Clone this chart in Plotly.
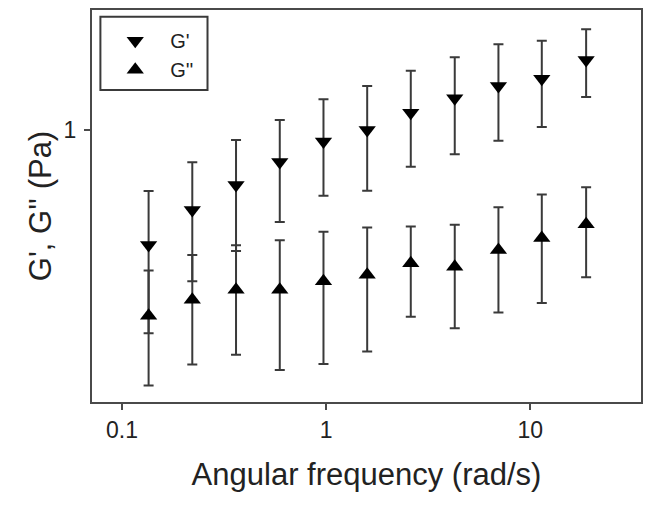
import plotly.graph_objects as go

# Angular frequency (rad/s)
freq = [0.135, 0.221, 0.362, 0.593, 0.971, 1.59, 2.60, 4.27, 6.99, 11.4, 18.8]

# G' (storage modulus) mean and error-bar ends
g1 = [0.509, 0.625, 0.724, 0.829, 0.934, 1.000, 1.107, 1.204, 1.295, 1.351, 1.508]
g1_hi = [0.699, 0.827, 0.943, 1.060, 1.197, 1.295, 1.416, 1.532, 1.654, 1.689, 1.806]
g1_lo = [0.303, 0.411, 0.491, 0.582, 0.679, 0.700, 0.806, 0.867, 0.939, 1.018, 1.214]

# G'' (loss modulus) mean and error-bar ends
g2 = [0.336, 0.369, 0.391, 0.391, 0.411, 0.427, 0.457, 0.448, 0.494, 0.530, 0.575]
g2_hi = [0.438, 0.480, 0.508, 0.523, 0.550, 0.564, 0.567, 0.573, 0.635, 0.684, 0.714]
g2_lo = [0.223, 0.252, 0.267, 0.244, 0.253, 0.272, 0.334, 0.312, 0.342, 0.362, 0.421]

x_ticks = [0.1, 1, 10]
x_ticktext = ["0.1", "1", "10"]
y_ticks = [1]
y_ticktext = ["1"]

FONT = "Liberation Sans, Arial, sans-serif"
ERR_COLOR = "#3a3a3a"


def err(mean, hi, lo):
    return dict(
        type="data",
        symmetric=False,
        array=[h - m for h, m in zip(hi, mean)],
        arrayminus=[m - l for m, l in zip(mean, lo)],
        color=ERR_COLOR,
        thickness=2,
        width=5,
    )


fig = go.Figure()
fig.add_trace(go.Scatter(
    x=freq, y=g1, mode="markers", name="G'",
    marker=dict(symbol="triangle-down", size=15, color="black"),
    error_y=err(g1, g1_hi, g1_lo),
))
fig.add_trace(go.Scatter(
    x=freq, y=g2, mode="markers", name="G''",
    marker=dict(symbol="triangle-up", size=15, color="black"),
    error_y=err(g2, g2_hi, g2_lo),
))

axis_common = dict(
    showline=True, linecolor="#4a4a4a", linewidth=2, mirror=True,
    showgrid=False, zeroline=False,
    ticks="outside", ticklen=6, tickwidth=1.5, tickcolor="#4a4a4a",
    tickfont=dict(family=FONT, size=23, color="#222222"),
)

fig.update_layout(
    width=653, height=509,
    paper_bgcolor="white", plot_bgcolor="white",
    margin=dict(l=92, r=12, t=10, b=107, autoexpand=False),
    font=dict(family=FONT, color="#222222"),
    xaxis=dict(
        type="log", range=[-1.147, 1.543],
        tickvals=x_ticks, ticktext=x_ticktext,
        title=dict(text="Angular frequency (rad/s)", standoff=22,
                   font=dict(family=FONT, size=31, color="#222222")),
        automargin=False,
        **axis_common,
    ),
    yaxis=dict(
        type="log", range=[-0.694, 0.306],
        tickvals=y_ticks, ticktext=y_ticktext,
        ticklabelstandoff=3,
        title=dict(text="G', G'' (Pa)", standoff=3,
                   font=dict(family=FONT, size=31, color="#222222")),
        automargin=False,
        **axis_common,
    ),
    showlegend=True,
    legend=dict(
        x=0.015, y=0.9715, xanchor="left", yanchor="top",
        bgcolor="rgba(0,0,0,0)", borderwidth=0,
        itemwidth=60, tracegroupgap=0,
        font=dict(family=FONT, size=20, color="#222222"),
    ),
    shapes=[dict(
        type="rect", xref="paper", yref="paper",
        x0=0.0153, x1=0.2104, y0=0.7962, y1=0.983,
        line=dict(color="#3a3a3a", width=2), fillcolor="rgba(0,0,0,0)",
    )],
)

fig.write_html("out.html", config={"displayModeBar": False},
               post_script="document.body.style.margin='0';")
